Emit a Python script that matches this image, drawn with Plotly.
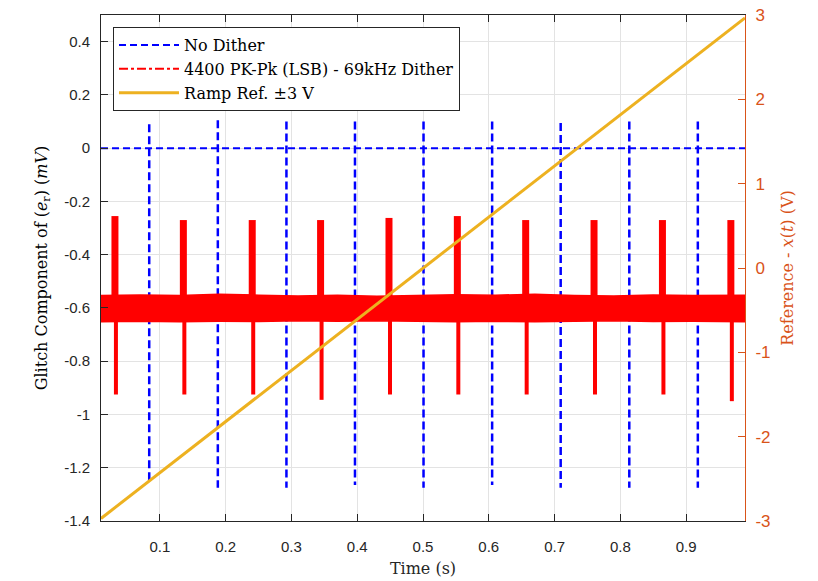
import plotly.graph_objects as go

# ---------------- data ----------------
x_range = [0.0105, 0.9895]

# No Dither: flat zero line with glitch spikes
nd_level = 0.0
nd_spike_t = [0.0838, 0.1881, 0.2924, 0.3966, 0.5008, 0.6051, 0.7093, 0.8136, 0.9178]
nd_spike_top = [0.090, 0.105, 0.100, 0.100, 0.100, 0.100, 0.094, 0.100, 0.100]
nd_spike_bot = [-1.258, -1.275, -1.275, -1.265, -1.275, -1.265, -1.275, -1.275, -1.275]

# Dithered: noise band envelope + glitch bursts
band_t = [0.0105, 0.07, 0.13, 0.19, 0.25, 0.31, 0.37, 0.43, 0.49, 0.55,
          0.61, 0.67, 0.73, 0.79, 0.85, 0.91, 0.9895]
band_upper = [-0.553, -0.551, -0.553, -0.549, -0.552, -0.555, -0.552, -0.556, -0.553, -0.550,
              -0.552, -0.549, -0.553, -0.555, -0.551, -0.553, -0.552]
band_lower = [-0.652, -0.650, -0.652, -0.650, -0.651, -0.648, -0.650, -0.648, -0.650, -0.652,
              -0.650, -0.652, -0.650, -0.648, -0.651, -0.650, -0.652]
d_spike_t = [0.0317, 0.1357, 0.2404, 0.3443, 0.4483, 0.5522, 0.6561, 0.7600, 0.8640, 0.9680]
d_spike_top = [-0.255, -0.270, -0.270, -0.270, -0.262, -0.255, -0.270, -0.270, -0.270, -0.270]
d_spike_bot = [-0.925, -0.925, -0.925, -0.945, -0.925, -0.925, -0.925, -0.925, -0.925, -0.950]

# Ramp reference (right axis)
ramp_t = [0.0105, 0.9895]
ramp_v = [-2.97, 2.965]

left_ticks = [-1.4, -1.2, -1.0, -0.8, -0.6, -0.4, -0.2, 0.0, 0.2, 0.4]
left_labels = ["-1.4", "-1.2", "-1", "-0.8", "-0.6", "-0.4", "-0.2", "0", "0.2", "0.4"]
right_ticks = [-3, -2, -1, 0, 1, 2, 3]
right_labels = ["-3", "-2", "-1", "0", "1", "2", "3"]
x_ticks = [0.1, 0.2, 0.3, 0.4, 0.5, 0.6, 0.7, 0.8, 0.9]
x_labels = ["0.1", "0.2", "0.3", "0.4", "0.5", "0.6", "0.7", "0.8", "0.9"]

# ---------------- styles ----------------
BLUE = "#0000FF"
RED = "#FF0000"
ORANGE = "#EDB120"
AXR = "#D95319"
DARK = "#262626"
GRID = "#E3E3E3"
SANS = "Liberation Sans, Arial, sans-serif"
SERIF = "DejaVu Serif, serif"

fig = go.Figure()

# No dither line
fig.add_trace(go.Scatter(x=x_range, y=[nd_level, nd_level], mode="lines",
                         line=dict(color=BLUE, width=2, dash="7px,4px"),
                         name="No Dither", legendrank=1))
sx, sy = [], []
for t, a, b in zip(nd_spike_t, nd_spike_top, nd_spike_bot):
    sx += [t, t, None]
    sy += [a, b, None]
fig.add_trace(go.Scatter(x=sx, y=sy, mode="lines",
                         line=dict(color=BLUE, width=2.5, dash="8px,4px"),
                         showlegend=False, hoverinfo="skip"))

# Dither band
fig.add_trace(go.Scatter(x=band_t + band_t[::-1], y=band_upper + band_lower[::-1],
                         mode="lines", fill="toself", fillcolor=RED,
                         line=dict(color=RED, width=1.5),
                         showlegend=False, hoverinfo="skip"))
ux, uy, lx, ly = [], [], [], []
for t, a, b in zip(d_spike_t, d_spike_top, d_spike_bot):
    ux += [t, t, None]
    uy += [-0.56, a, None]
    lx += [t + 0.0015, t + 0.0015, None]
    ly += [-0.64, b, None]
fig.add_trace(go.Scatter(x=ux, y=uy, mode="lines", line=dict(color=RED, width=7),
                         showlegend=False, hoverinfo="skip"))
fig.add_trace(go.Scatter(x=lx, y=ly, mode="lines", line=dict(color=RED, width=4),
                         showlegend=False, hoverinfo="skip"))
# legend entry for dithered signal
fig.add_trace(go.Scatter(x=[None], y=[None], mode="lines",
                         line=dict(color=RED, width=2, dash="dashdot"),
                         name="4400 PK-Pk (LSB) - 69kHz Dither", legendrank=2))

# Ramp
fig.add_trace(go.Scatter(x=ramp_t, y=ramp_v, mode="lines", yaxis="y2",
                         line=dict(color=ORANGE, width=3),
                         name="Ramp Ref. \u00b13 V", legendrank=3))

fig.update_layout(
    width=818, height=581,
    margin=dict(l=101, r=73, t=15, b=60, autoexpand=False),
    paper_bgcolor="white", plot_bgcolor="white",
    showlegend=True,
    legend=dict(x=0.0186, y=0.976, xanchor="left", yanchor="top",
                bgcolor="white", bordercolor=DARK, borderwidth=1,
                font=dict(family=SERIF, size=16, color="black"),
                itemwidth=60, tracegroupgap=0),
    xaxis=dict(range=x_range, tickvals=x_ticks, ticktext=x_labels, automargin=False,
               ticks="inside", ticklen=7, tickcolor=DARK,
               showline=True, linecolor=DARK, linewidth=1, mirror="ticks",
               showgrid=True, gridcolor=GRID, zeroline=False,
               tickfont=dict(family=SANS, size=15, color=DARK),
               ticklabelstandoff=12,
               title=dict(text="Time (s)", font=dict(family=SERIF, size=16, color=DARK), standoff=8)),
    yaxis=dict(range=[-1.4, 0.5], tickvals=left_ticks, ticktext=left_labels, automargin=False,
               ticks="inside", ticklen=7, tickcolor=DARK,
               showline=True, linecolor=DARK, linewidth=1, mirror=False,
               showgrid=True, gridcolor=GRID, zeroline=False,
               tickfont=dict(family=SANS, size=15, color=DARK),
               ticklabelstandoff=7,
               title=dict(text="Glitch Component of (<i>e</i><sub>r</sub>) (<i>mV</i>)",
                          font=dict(family=SERIF, size=16, color="black"), standoff=12)),
    yaxis2=dict(range=[-3, 3], tickvals=right_ticks, ticktext=right_labels,
                overlaying="y", side="right", automargin=False,
                ticks="inside", ticklen=7, tickcolor=AXR,
                showline=True, linecolor=AXR, linewidth=1,
                showgrid=False, zeroline=False,
                tickfont=dict(family=SANS, size=17, color=AXR),
                ticklabelstandoff=6,
                title=dict(text="Reference - <i>x</i>(<i>t</i>) (V)",
                           font=dict(family=SERIF, size=16, color=AXR), standoff=12)),
)

fig.write_html("out.html")
